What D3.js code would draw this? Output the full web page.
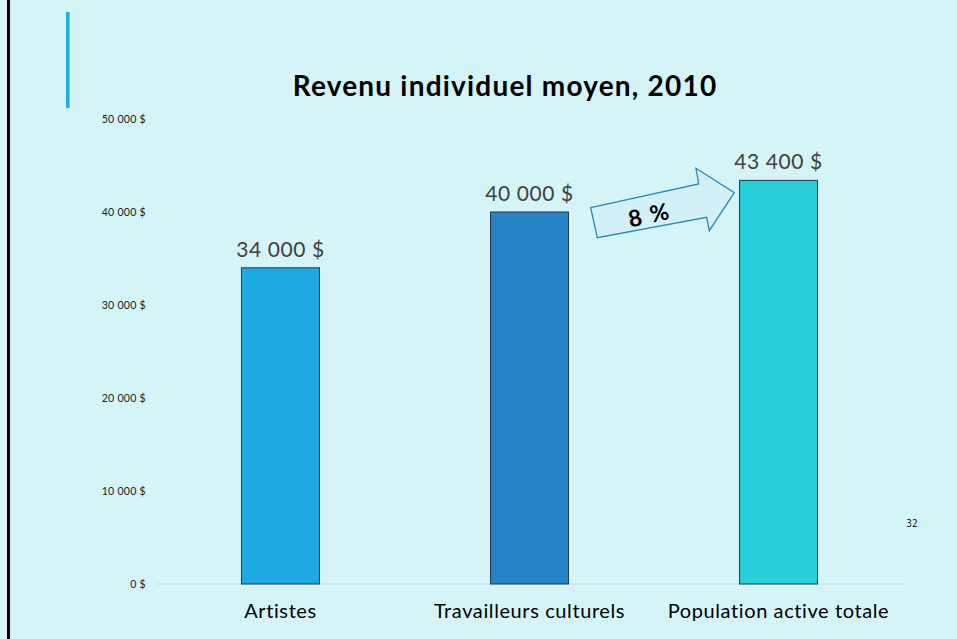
<!DOCTYPE html>
<html>
<head>
<meta charset="utf-8">
<script src="https://cdn.jsdelivr.net/npm/d3@7"></script>
<style>
  html, body { margin: 0; padding: 0; background: #d4f4f7; }
  svg { display: block; }
</style>
</head>
<body>
<svg id="chart" width="957" height="639"></svg>
<script>
const categories = ["Artistes", "Travailleurs culturels", "Population active totale"];
const values = [34000, 40000, 43400];
const valueLabels = ["34 000 $", "40 000 $", "43 400 $"];
const barColors = ["#1eabe3", "#2683c6", "#27ced7"];
const yTicks = [0, 10000, 20000, 30000, 40000, 50000];
const yTickLabels = ["0 $", "10 000 $", "20 000 $", "30 000 $", "40 000 $", "50 000 $"];
const title = "Revenu individuel moyen, 2010";
const growthLabel = "8 %";
const pageNumber = "32";

const svg = d3.select("#chart");
const font = "Lato, 'Noto Sans', sans-serif";

svg.append("rect").attr("width", 957).attr("height", 639).attr("fill", "#d4f4f7");
// left border
svg.append("rect").attr("x", 7).attr("y", 0).attr("width", 3).attr("height", 639).attr("fill", "#000");
// accent bar
svg.append("rect").attr("x", 66).attr("y", 12).attr("width", 3.5).attr("height", 96).attr("fill", "#1eabe3");

const x = d3.scaleBand().domain(categories).range([156, 903])
  .paddingInner(1 - 78 / 249).paddingOuter((1 - 78 / 249) / 2);
const y = d3.scaleLinear().domain([0, 50000]).range([584, 119]);

// title
svg.append("text").attr("x", 505).attr("y", 96).attr("text-anchor", "middle")
  .attr("font-family", font).attr("font-weight", "bold").attr("font-size", 28)
  .attr("letter-spacing", 1.2).attr("fill", "#000").text(title);

// y axis
const yAxis = d3.axisLeft(y).tickValues(yTicks)
  .tickFormat((d, i) => yTickLabels[i]).tickSize(0).tickPadding(0);
const gy = svg.append("g").attr("transform", "translate(146,0)").call(yAxis);
gy.select(".domain").remove();
gy.selectAll("text").attr("font-family", font).attr("font-size", 10.5)
  .attr("letter-spacing", 0.3).attr("fill", "#1a1a1a");

// baseline
svg.append("line").attr("x1", 156).attr("x2", 903).attr("y1", y(0)).attr("y2", y(0))
  .attr("stroke", "#d9d3d6").attr("stroke-width", 1.2);

// bars
svg.selectAll("rect.bar").data(categories).join("rect").attr("class", "bar")
  .attr("x", d => x(d)).attr("width", x.bandwidth())
  .attr("y", (d, i) => y(values[i])).attr("height", (d, i) => y(0) - y(values[i]))
  .attr("fill", (d, i) => barColors[i]).attr("stroke", "#1d3d4f").attr("stroke-width", 1);

// value labels
svg.selectAll("text.val").data(categories).join("text").attr("class", "val")
  .attr("x", d => x(d) + x.bandwidth() / 2).attr("y", (d, i) => y(values[i]) - 11)
  .attr("text-anchor", "middle").attr("font-family", font).attr("font-size", 21)
  .attr("letter-spacing", 0.6).attr("fill", "#404040").text((d, i) => valueLabels[i]);

// category labels
const xAxis = d3.axisBottom(x).tickSize(0).tickPadding(0);
const gx = svg.append("g").attr("transform", `translate(0,${y(0) + 34})`).call(xAxis);
gx.select(".domain").remove();
gx.selectAll("text").attr("font-family", font).attr("font-size", 20)
  .attr("letter-spacing", 0.6).attr("fill", "#000").attr("dy", 0);

// arrow
const arrowPts = [[590.7, 207.7], [698.7, 184], [696, 168.3], [734.3, 192.7], [709.3, 230.7], [706.7, 217.3], [597.3, 237.7]];
svg.append("polygon").attr("points", arrowPts.map(p => p.join(",")).join(" "))
  .attr("fill", "#d3eff9").attr("stroke", "#2b88b6").attr("stroke-width", 1.3);
svg.append("text").attr("transform", "translate(651,223) rotate(-12)")
  .attr("text-anchor", "middle").attr("font-family", font).attr("font-weight", "bold")
  .attr("font-size", 23).attr("letter-spacing", 1.5).attr("fill", "#000").text(growthLabel);

// page number
svg.append("text").attr("x", 912).attr("y", 527).attr("text-anchor", "middle")
  .attr("font-family", "'Liberation Sans Narrow', 'DejaVu Sans Condensed', sans-serif")
  .attr("font-size", 10).attr("fill", "#222").text(pageNumber);
</script>
</body>
</html>
